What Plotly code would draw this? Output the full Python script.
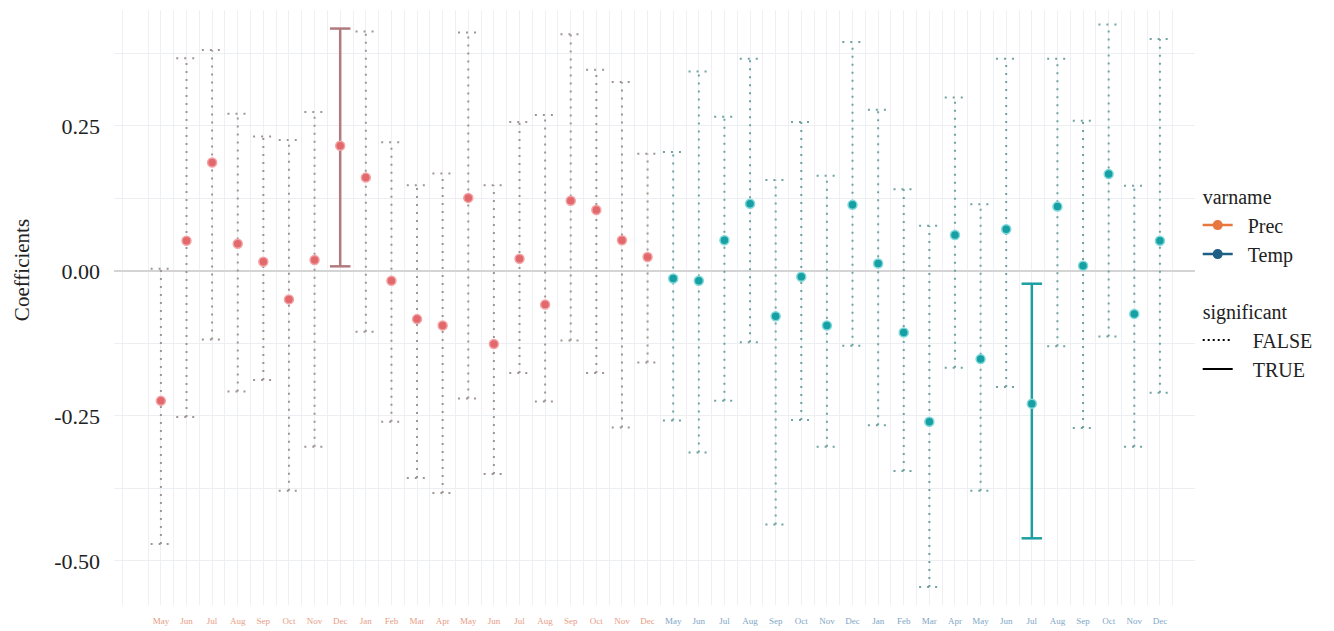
import plotly.graph_objects as go

# ---------------- data ----------------
months = ["May", "Jun", "Jul", "Aug", "Sep", "Oct", "Nov", "Dec", "Jan", "Feb",
          "Mar", "Apr", "May", "Jun", "Jul", "Aug", "Sep", "Oct", "Nov", "Dec"]

prec_coef = [-0.224, 0.052, 0.187, 0.047, 0.016, -0.049, 0.019, 0.216, 0.161, -0.017,
             -0.083, -0.094, 0.126, -0.126, 0.021, -0.058, 0.121, 0.105, 0.053, 0.024]
prec_upper = [0.004, 0.367, 0.381, 0.271, 0.232, 0.226, 0.274, 0.418, 0.413, 0.222,
              0.148, 0.168, 0.411, 0.148, 0.257, 0.269, 0.408, 0.347, 0.326, 0.202]
prec_lower = [-0.471, -0.252, -0.118, -0.208, -0.188, -0.379, -0.303, 0.008, -0.105, -0.260,
              -0.357, -0.383, -0.220, -0.350, -0.176, -0.225, -0.120, -0.176, -0.270, -0.158]
prec_sig = [False] * 7 + [True] + [False] * 12

temp_coef = [-0.013, -0.017, 0.053, 0.116, -0.078, -0.010, -0.094, 0.114, 0.013, -0.106,
             -0.260, 0.062, -0.152, 0.072, -0.229, 0.111, 0.009, 0.167, -0.074, 0.052]
temp_upper = [0.205, 0.344, 0.266, 0.366, 0.157, 0.257, 0.164, 0.395, 0.278, 0.141,
              0.078, 0.299, 0.115, 0.366, -0.022, 0.366, 0.259, 0.425, 0.147, 0.400]
temp_lower = [-0.258, -0.313, -0.224, -0.123, -0.437, -0.257, -0.303, -0.129, -0.266, -0.345,
              -0.545, -0.167, -0.379, -0.200, -0.461, -0.130, -0.271, -0.113, -0.303, -0.210]
temp_sig = [False] * 14 + [True] + [False] * 5

y_ticks = [-0.50, -0.25, 0.00, 0.25]
y_tick_labels = ["-0.50", "-0.25", "0.00", "0.25"]

# ---------------- styles ----------------
FONT = "Liberation Serif"
CAP = 0.4
PAD = "\u00a0\u00a0"
series = [
    dict(name="Prec", coef=prec_coef, lo=prec_lower, hi=prec_upper, sig=prec_sig, offset=0,
         point="#E3686C", halo="#F2A5A7", dotted="#A09595", solid="#B27A7E",
         legend="#E8773F", label="#E79C84"),
    dict(name="Temp", coef=temp_coef, lo=temp_lower, hi=temp_upper, sig=temp_sig, offset=len(months),
         point="#16A0A3", halo="#7FD8DA", dotted="#6FA2A2", solid="#1D9EA0",
         legend="#1E5F85", label="#7DA6C6"),
]

fig = go.Figure()


def bar_segments(xs, lo, hi):
    X, Y = [], []
    for x, l, h in zip(xs, lo, hi):
        X += [x, x, None, x - CAP, x + CAP, None, x - CAP, x + CAP, None]
        Y += [l, h, None, h, h, None, l, l, None]
    return X, Y


tickvals, ticktext = [], []
for s in series:
    xs = [s["offset"] + i for i in range(len(months))]
    tickvals += xs
    ticktext += [f'<span style="color:{s["label"]}">{m}</span>' for m in months]
    for flag in (False, True):
        idx = [i for i, g in enumerate(s["sig"]) if g == flag]
        if not idx:
            continue
        X, Y = bar_segments([xs[i] for i in idx], [s["lo"][i] for i in idx], [s["hi"][i] for i in idx])
        fig.add_trace(go.Scatter(
            x=X, y=Y, mode="lines", showlegend=False, hoverinfo="skip",
            line=dict(color=s["solid"] if flag else s["dotted"],
                      width=2.5 if flag else 2,
                      dash="solid" if flag else "2px,6px")))
    fig.add_trace(go.Scatter(
        x=xs, y=s["coef"], mode="markers", showlegend=False,
        marker=dict(color=s["point"], size=9, line=dict(color=s["halo"], width=1.5))))

# legend-only traces
for i, s in enumerate(series):
    fig.add_trace(go.Scatter(
        x=[None], y=[None], mode="lines+markers", name=PAD + s["name"],
        legendgroup="varname", legendgrouptitle_text="varname" if i == 0 else None,
        line=dict(color=s["legend"], width=2.5), marker=dict(color=s["legend"], size=10)))
for i, (nm, dash) in enumerate([("FALSE", "2px,3px"), ("TRUE", "solid")]):
    fig.add_trace(go.Scatter(
        x=[None], y=[None], mode="lines", name=PAD + "\u00a0" + nm,
        legendgroup="significant", legendgrouptitle_text="significant" if i == 0 else None,
        line=dict(color="black", width=2, dash=dash)))

GRID = "#EEF0F3"
# the page body adds an 8 px offset, margins compensate for it
fig.update_layout(
    width=1334, height=631,
    margin=dict(l=106, r=147, t=2, b=34),
    paper_bgcolor="white", plot_bgcolor="white",
    font=dict(family=FONT, color="#222222"),
    xaxis=dict(
        range=[-1.83, 40.37], tickmode="array", tickvals=tickvals, ticktext=ticktext,
        tickfont=dict(family=FONT, size=9), tickangle=0, automargin=False,
        showgrid=True, gridcolor=GRID, gridwidth=1, zeroline=False, showline=False,
        ticklabelstandoff=9,
        minor=dict(tickmode="linear", tick0=0.5, dtick=1, showgrid=True, gridcolor=GRID, gridwidth=1),
    ),
    yaxis=dict(
        range=[-0.576, 0.45], tickmode="array", tickvals=y_ticks, ticktext=y_tick_labels,
        tickfont=dict(family=FONT, size=22, color="#222222"), automargin=False,
        showgrid=True, gridcolor="#ECEEF1", gridwidth=1.2,
        zeroline=True, zerolinecolor="#D4D4D4", zerolinewidth=2, showline=False,
        ticklabelstandoff=13,
        minor=dict(tickmode="linear", tick0=0.125, dtick=0.25, showgrid=True, gridcolor="#ECEEF1", gridwidth=1.2),
    ),
    legend=dict(
        x=1.0025, xanchor="left", y=0.72, yanchor="top",
        font=dict(family=FONT, size=20, color="#222222"),
        grouptitlefont=dict(family=FONT, size=20, color="#222222"),
        tracegroupgap=28, itemwidth=30, bgcolor="rgba(0,0,0,0)",
    ),
    annotations=[dict(
        text="Coefficients", xref="paper", yref="paper", x=-0.085, y=0.563,
        xanchor="center", yanchor="middle", textangle=-90, showarrow=False,
        font=dict(family=FONT, size=21, color="#222222"))],
)

fig.write_html("out.html")
